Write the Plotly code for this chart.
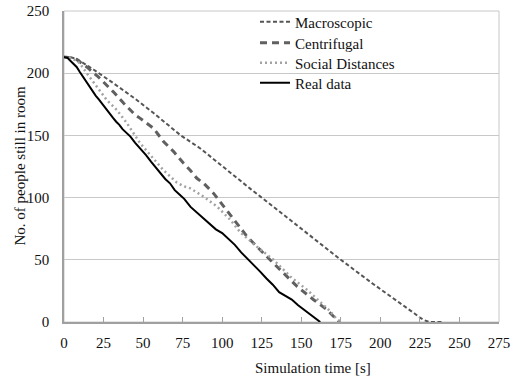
import plotly.graph_objects as go

# ---- data ----
macro_t = [0, 4, 8, 12, 18.6, 31.2, 46, 56.6, 73.5, 86.2, 103, 117.9, 124, 150, 175, 195, 212.9, 218, 221.4, 225, 227.7, 231, 240]
macro_n = [213, 212.8, 211.5, 208.5, 203, 192, 178.5, 168, 150.3, 139.5, 122, 107, 101, 75, 50, 31, 15, 10.5, 7, 3.5, 1.5, 0, 0]

centri_t = [0, 4, 8, 14.4, 21.7, 31.2, 37.6, 45, 48.2, 56.6, 62.9, 69.3, 75.6, 79.8, 84, 88.3, 94.6, 101, 109.4, 115.8, 126.3, 136.9, 147.5, 158, 166.5, 170, 173, 174]
centri_n = [213, 212.5, 211, 205, 197, 185, 176, 166.5, 163.7, 155.7, 145, 137, 127.6, 122, 115.5, 111.5, 103.4, 92.7, 79.3, 68.6, 55, 41.8, 28.4, 17.7, 9.6, 5, 1, 0]

social_t = [0, 4, 8, 10, 14.4, 20.7, 27, 33.4, 39.7, 48.2, 56.6, 62.9, 71.4, 76, 79.8, 84, 88.3, 96.8, 105.2, 111.5, 122, 132.6, 143.2, 153.8, 162.2, 167.5, 172, 175]
social_n = [213, 212.5, 210, 208, 200, 189, 178.5, 170.4, 160, 143.6, 131.6, 122, 112, 109, 107.5, 104, 100.7, 92.7, 82, 72, 60.5, 49.8, 36.4, 25.7, 16.3, 9.6, 3, 0]

real_t = [0, 2, 4, 6, 8, 10, 12, 14, 16, 18, 20, 22, 25, 27, 29, 31, 33, 35, 37, 40, 42, 45, 48, 50, 52, 55, 58, 61, 64, 67, 70, 73, 76, 80, 84, 88, 92, 96, 100, 104, 108, 112, 116, 120, 124, 128, 132, 136, 140, 144, 148, 152, 156, 159, 162]
real_n = [213, 212.5, 210, 207.5, 205, 201, 197, 194, 190, 186, 182, 179, 174, 170, 166.5, 164, 161, 158.5, 155, 151, 149, 144, 140, 137, 134, 129, 124, 119.5, 115, 111.5, 106, 102.5, 99, 92.5, 88, 83.5, 79, 74.5, 71.5, 67, 62, 56, 51, 46, 40.5, 35, 30, 24, 21, 18, 13.5, 9.5, 5.5, 2.5, 0]

x_ticks = [0, 25, 50, 75, 100, 125, 150, 175, 200, 225, 250, 275]
y_ticks = [0, 50, 100, 150, 200, 250]

FONT = "Liberation Serif"
FS = 15
TXT = "#111111"

# plot area in pixels: x 64..499, y 11..322
PL, PR, PT, PB = 64, 499, 11, 322
PW, PH = PR - PL, PB - PT

fig = go.Figure()
fig.add_trace(go.Scatter(x=macro_t, y=macro_n, mode="lines", name="Macroscopic", legend="legend",
                         line=dict(color="#555555", width=2, dash="4px,2.5px")))
fig.add_trace(go.Scatter(x=centri_t, y=centri_n, mode="lines", name="Centrifugal", legend="legend2",
                         line=dict(color="#606060", width=3, dash="7px,5px")))
fig.add_trace(go.Scatter(x=social_t, y=social_n, mode="lines", name="Social Distances", legend="legend3",
                         line=dict(color="#a3a3a3", width=2.5, dash="2px,3px")))
fig.add_trace(go.Scatter(x=real_t, y=real_n, mode="lines", name="Real data", legend="legend4",
                         line=dict(color="#000000", width=2)))


def leg(yc):
    return dict(x=(255 - PL) / PW, y=(PB - yc) / PH, xanchor="left", yanchor="middle",
                bgcolor="rgba(0,0,0,0)", borderwidth=0, itemwidth=30,
                font=dict(family=FONT, size=FS, color=TXT))


fig.update_layout(
    width=511, height=381,
    margin=dict(l=PL, r=511 - PR, t=PT, b=381 - PB, autoexpand=False),
    paper_bgcolor="white", plot_bgcolor="white",
    font=dict(family=FONT, size=FS, color=TXT),
    showlegend=True,
    legend=leg(22), legend2=leg(43), legend3=leg(63), legend4=leg(83),
    shapes=[dict(type="rect", xref="paper", yref="paper", x0=0, y0=0, x1=1, y1=1,
                 line=dict(color="#c8c8c8", width=1), layer="below")],
    annotations=[
        dict(text="Simulation time [s]", xref="paper", yref="paper",
             x=(313 - PL) / PW, y=-(368 - PB) / PH, xanchor="center", yanchor="middle",
             showarrow=False, font=dict(family=FONT, size=FS, color=TXT)),
        dict(text="No. of people still in room", xref="paper", yref="paper",
             x=-(PL - 19) / PW, y=0.5, xanchor="center", yanchor="middle", textangle=-90,
             showarrow=False, font=dict(family=FONT, size=FS, color=TXT)),
    ],
)
fig.update_xaxes(range=[0, 275], tickvals=x_ticks, showgrid=False, zeroline=False,
                 showline=True, linecolor="#a0a0a0", linewidth=1.5, automargin=False,
                 ticks="inside", ticklen=5, tickcolor="#a0a0a0", tickwidth=1,
                 ticklabelstandoff=6, ticklabeloverflow="allow",
                 tickfont=dict(family=FONT, size=FS, color=TXT))
fig.update_yaxes(range=[0, 250], tickvals=y_ticks, showgrid=True, gridcolor="#c8c8c8",
                 gridwidth=1, zeroline=False, showline=True, linecolor="#a0a0a0",
                 linewidth=1.5, ticks="", ticklabelstandoff=10, automargin=False,
                 ticklabeloverflow="allow",
                 tickfont=dict(family=FONT, size=FS, color=TXT))

fig.write_html("out.html", config={"displayModeBar": False},
               post_script="document.body.style.margin='0';document.body.style.overflow='hidden';")
